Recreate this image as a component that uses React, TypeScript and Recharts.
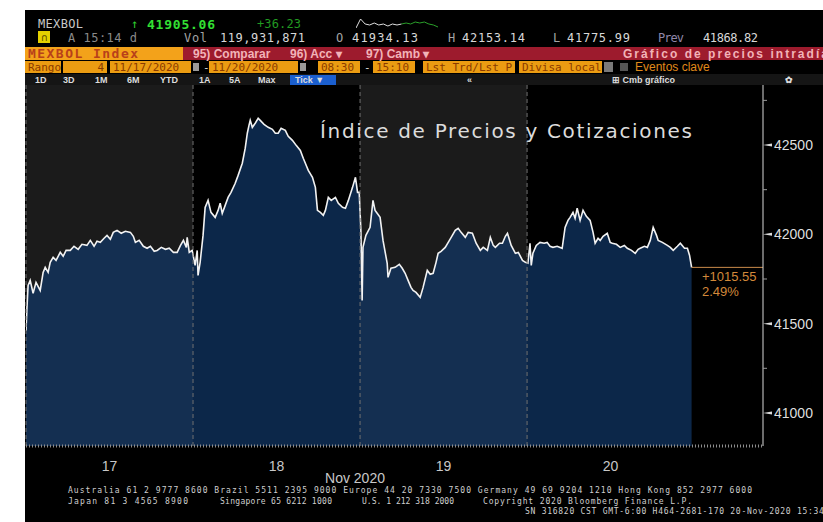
import React from "react";
import {
  Area,
  ComposedChart,
  Line,
  LineChart,
  ReferenceArea,
  ReferenceLine,
  XAxis,
  YAxis,
} from "recharts";

// minutes after 08:30 for each session, and the index level
const dayLabels = ["17", "18", "19", "20"];
const dayStarts = [0, 400, 800, 1200];
const X_MAX = 1765;

const d17Min = [0, 2, 5, 10, 17, 24, 34, 41, 46, 53, 58, 65, 72, 82, 89, 96, 106, 115, 125, 134, 146, 154, 163, 170, 178, 187, 194, 202, 209, 218, 228, 238, 250, 257, 262, 271, 281, 290, 298, 307, 314, 324, 334, 343, 353, 362, 370, 377, 384, 386, 391, 398];
const d17Val = [41460, 41574, 41714, 41742, 41670, 41731, 41686, 41787, 41815, 41787, 41843, 41871, 41854, 41899, 41877, 41910, 41910, 41933, 41916, 41944, 41938, 41966, 41933, 41961, 41955, 41978, 41994, 41972, 42011, 42022, 42006, 42017, 42011, 41989, 41955, 41966, 41933, 41922, 41933, 41905, 41910, 41927, 41916, 41922, 41899, 41899, 41938, 41966, 41927, 41983, 41899, 41910];

const d18Min = [5, 10, 12, 17, 24, 29, 36, 43, 53, 60, 65, 70, 77, 84, 91, 101, 108, 118, 125, 130, 134, 137, 142, 149, 156, 161, 170, 180, 190, 197, 204, 211, 221, 228, 238, 247, 257, 264, 269, 276, 286, 293, 298, 305, 312, 317, 324, 331, 341, 348, 358, 365, 372, 382, 389, 394, 398];
const d18Val = [41826, 41910, 41770, 41843, 41994, 42151, 42190, 42123, 42095, 42134, 42174, 42118, 42162, 42207, 42235, 42286, 42330, 42398, 42482, 42566, 42610, 42638, 42599, 42622, 42650, 42638, 42616, 42599, 42588, 42566, 42566, 42594, 42582, 42549, 42526, 42498, 42470, 42426, 42398, 42358, 42319, 42263, 42134, 42123, 42106, 42134, 42207, 42190, 42207, 42174, 42151, 42146, 42190, 42263, 42319, 42235, 42235];

const d19Min = [2, 5, 7, 14, 24, 31, 36, 41, 48, 55, 65, 67, 74, 84, 94, 101, 108, 115, 122, 127, 134, 144, 151, 161, 168, 175, 182, 187, 194, 204, 214, 221, 228, 235, 242, 252, 259, 269, 278, 288, 295, 305, 312, 319, 324, 334, 341, 348, 353, 362, 372, 379, 389, 396];
const d19Val = [42022, 41630, 41927, 41994, 42039, 42190, 42134, 42118, 42095, 41966, 41838, 41759, 41810, 41815, 41832, 41810, 41782, 41742, 41703, 41686, 41675, 41647, 41703, 41798, 41776, 41782, 41843, 41894, 41905, 41927, 41966, 41994, 42022, 42034, 42011, 41983, 42011, 42006, 41950, 41910, 41927, 41910, 41983, 41938, 41927, 41950, 41950, 41989, 42006, 41938, 41894, 41899, 41854, 41843];

const d20Min = [2, 7, 10, 14, 22, 31, 41, 48, 55, 62, 72, 84, 91, 98, 103, 110, 115, 120, 127, 134, 142, 151, 158, 163, 170, 175, 182, 192, 199, 204, 214, 223, 233, 240, 250, 259, 266, 271, 281, 288, 295, 302, 310, 314, 324, 336, 343, 350, 360, 367, 377, 384, 389, 394];
const d20Val = [41838, 41950, 41826, 41894, 41938, 41955, 41950, 41955, 41933, 41927, 41933, 41922, 42039, 42078, 42095, 42123, 42090, 42146, 42078, 42134, 42101, 42078, 42011, 41950, 41978, 41966, 41989, 42006, 41955, 41950, 41944, 41927, 41938, 41922, 41910, 41894, 41916, 41922, 41933, 41927, 41966, 42039, 41994, 41966, 41955, 41938, 41927, 41910, 41933, 41950, 41922, 41922, 41883, 41815];

const yTicks = [41000, 41250, 41500, 41750, 42000, 42250, 42500, 42750];
const yMajor = [41000, 41500, 42000, 42500];
const Y_DOMAIN = [40815, 42836];

const sparkWhite = [2, 11, 6, 5, 7, 5, 6, 4, 6, 5, 6, null, null, null, null, null, null, null, null];
const sparkGreen = [null, null, null, null, null, null, null, null, null, null, 6, 7, 6, 8, 7, 8, 6, 5, 3];

const days = [
  { start: dayStarts[0], t: d17Min, v: d17Val },
  { start: dayStarts[1], t: d18Min, v: d18Val },
  { start: dayStarts[2], t: d19Min, v: d19Val },
  { start: dayStarts[3], t: d20Min, v: d20Val },
];
const data = days.flatMap((d) => d.t.map((m, i) => ({ t: d.start + m, v: d.v[i] })));
const last = data[data.length - 1];
const sparkData = sparkWhite.map((w, i) => ({ i, w, g: sparkGreen[i] }));

const MONO = "DejaVu Sans Mono";
const SANS = "Liberation Sans";

function RightTick({ x, y, payload }: any) {
  const v = payload.value;
  if (!yMajor.includes(v)) {
    return <line x1={x} x2={x + 4} y1={y} y2={y} stroke="#9a9a9a" />;
  }
  return (
    <g>
      <polygon points={`${x},${y} ${x + 9},${y - 1.5} ${x + 9},${y + 1.5}`} fill="#dcdcdc" />
      <text x={x + 11} y={y + 5} fill="#dedede" fontSize={14} fontFamily={SANS}>
        {v}
      </text>
    </g>
  );
}

function DayTick({ x, y, payload }: any) {
  const idx = dayStarts.indexOf(payload.value - 200);
  return (
    <text x={x} y={y + 23} textAnchor="middle" fill="#c8c8c8" fontSize={14} fontFamily={SANS}>
      {dayLabels[idx]}
    </text>
  );
}

function ChangeLabel({ viewBox }: any) {
  const x0 = viewBox.x + viewBox.width - 61;
  const y0 = viewBox.y;
  return (
    <g fontFamily={SANS} fontSize={13} fill="#d3893a">
      <text x={x0} y={y0 + 14}>+1015.55</text>
      <text x={x0} y={y0 + 29}>2.49%</text>
    </g>
  );
}

function Header() {
  const box = (x: number, w: number, label: string, right = false) => (
    <g key={label + x}>
      <rect x={x} y={61} width={w} height={12} fill="#eb9c12" />
      <text
        x={right ? x + w - 3 : x + 3}
        y={71}
        textAnchor={right ? "end" : "start"}
        fontSize={11}
        fill="#8a3a00"
        fontFamily={MONO}
      >
        {label}
      </text>
    </g>
  );
  return (
    <svg width={823} height={522} style={{ position: "absolute", left: 0, top: 0, pointerEvents: "none" }}>
      <g fontFamily={MONO} fontSize={12}>
        <text x={38} y={28} fill="#c8c8c8" textLength={45}>MEXBOL</text>
        <text x={131} y={28} fill="#2fd02f">↑</text>
        <text x={147} y={29} fill="#33e033" fontWeight="bold" fontSize={13} textLength={68}>41905.06</text>
        <text x={257} y={28} fill="#229a22" textLength={44}>+36.23</text>

        <rect x={38} y={31} width={12} height={12} fill="#e3d000" />
        <text x={41} y={41} fill="#5a4a00" fontSize={10}>∩</text>
        <text x={68} y={42} fill="#8a8a8a" textLength={69}>A 15:14 d</text>
        <text x={184} y={42} fill="#a4a4a4" textLength={23}>Vol</text>
        <text x={220} y={42} fill="#d8d8d8" textLength={85}>119,931,871</text>
        <text x={336} y={42} fill="#a4a4a4">O</text>
        <text x={352} y={42} fill="#d8d8d8" textLength={66}>41934.13</text>
        <text x={448} y={42} fill="#a4a4a4">H</text>
        <text x={462} y={42} fill="#d8d8d8" textLength={63}>42153.14</text>
        <text x={553} y={42} fill="#a4a4a4">L</text>
        <text x={567} y={42} fill="#d8d8d8" textLength={63}>41775.99</text>
        <text x={658} y={42} fill="#8f86a8" textLength={26}>Prev</text>
        <text x={703} y={42} fill="#d8d8d8" textLength={55}>41868.82</text>
      </g>

      <rect x={25} y={47} width={158} height={13} fill="#f3a21a" />
      <text x={28} y={58} fontFamily={MONO} fontSize={13} fontWeight="bold" fill="#b8401a" textLength={110}>
        MEXBOL Index
      </text>
      <rect x={183} y={47} width={640} height={13} fill="#9d1b2d" />
      <g fontFamily={SANS} fontSize={12} fontWeight="bold" fill="#f2b3b8">
        <text x={193} y={58}>95) Comparar</text>
        <text x={290} y={58}>96) Acc ▾</text>
        <text x={366} y={58}>97) Camb ▾</text>
        <text x={623} y={58} textLength={205}>Gráfico de precios intradía</text>
      </g>

      <g>
        {box(25, 36, "Rango")}
        {box(63, 44, "4", true)}
        {box(110, 81, "11/17/2020")}
        <rect x={193} y={63} width={6} height={8} fill="#9a9a9a" />
        <text x={203} y={71} fontSize={11} fill="#ddd" fontFamily={MONO}>-</text>
        {box(209, 89, "11/20/2020")}
        <rect x={300} y={63} width={6} height={8} fill="#9a9a9a" />
        {box(318, 42, "08:30")}
        <text x={364} y={71} fontSize={11} fill="#ddd" fontFamily={MONO}>-</text>
        {box(373, 42, "15:10")}
        {box(423, 92, "Lst Trd/Lst P")}
        {box(519, 83, "Divisa local")}
        <rect x={604} y={62} width={9} height={10} fill="#7a7a7a" />
        <rect x={620} y={63} width={8} height={8} fill="#555" />
        <text x={635} y={71} fontSize={12} fill="#e08a1a" fontFamily={SANS}>Eventos clave</text>
      </g>

      <rect x={25} y={74} width={798} height={11} fill="#151515" />
      <g fontFamily={SANS} fontSize={9} fontWeight="bold" fill="#dcdcdc">
        <text x={35} y={83}>1D</text>
        <text x={63} y={83}>3D</text>
        <text x={95} y={83}>1M</text>
        <text x={127} y={83}>6M</text>
        <text x={160} y={83}>YTD</text>
        <text x={199} y={83}>1A</text>
        <text x={229} y={83}>5A</text>
        <text x={258} y={83}>Max</text>
        <rect x={290} y={75} width={46} height={10} fill="#1b5fcf" />
        <text x={295} y={83}>Tick ▼</text>
        <text x={467} y={83}>«</text>
        <text x={612} y={83}>⊞ Cmb gráfico</text>
        <text x={785} y={83}>✿</text>
      </g>

      <text x={320} y={138} fontFamily="DejaVu Sans" fontSize={20} fill="#dcdcdc" textLength={372}>
        Índice de Precios y Cotizaciones
      </text>

      <text x={355} y={483} textAnchor="middle" fontFamily={SANS} fontSize={14} fill="#c8c8c8">
        Nov 2020
      </text>
      <g fontFamily={MONO} fontSize={8} fill="#cfcfcf">
        <text x={68} y={493} textLength={684}>
          Australia 61 2 9777 8600 Brazil 5511 2395 9000 Europe 44 20 7330 7500 Germany 49 69 9204 1210 Hong Kong 852 2977 6000
        </text>
        <text x={68} y={504} textLength={120}>Japan 81 3 4565 8900</text>
        <text x={220} y={504} textLength={112}>Singapore 65 6212 1000</text>
        <text x={362} y={504} textLength={92}>U.S. 1 212 318 2000</text>
        <text x={483} y={504} textLength={209}>Copyright 2020 Bloomberg Finance L.P.</text>
        <text x={525} y={514} textLength={310}>SN 316820 CST  GMT-6:00 H464-2681-170 20-Nov-2020 15:34:0</text>
      </g>
    </svg>
  );
}

export default function App() {
  return (
    <div style={{ position: "absolute", left: 0, top: 0, width: 823, height: 522, background: "#fff", overflow: "hidden" }}>
      <div style={{ position: "absolute", left: 25, top: 10, width: 798, height: 512, background: "#000" }} />
      <div style={{ position: "absolute", left: 0, top: 0 }}>
        <ComposedChart width={823} height={522} data={data} margin={{ top: 85, right: 0, bottom: 0, left: 26 }}>
          <ReferenceArea x1={dayStarts[0]} x2={dayStarts[1]} fill="#1b1b1b" fillOpacity={1} />
          <ReferenceArea x1={dayStarts[2]} x2={dayStarts[3]} fill="#1b1b1b" fillOpacity={1} />
          <XAxis
            dataKey="t"
            type="number"
            domain={[0, X_MAX]}
            ticks={dayStarts.map((s) => s + 200)}
            tick={<DayTick />}
            tickLine={false}
            tickSize={0}
            height={76}
            allowDataOverflow
            axisLine={{ stroke: "#8c8c8c", strokeWidth: 3, strokeDasharray: "1 2" }}
          />
          <YAxis
            orientation="right"
            type="number"
            domain={Y_DOMAIN}
            ticks={yTicks}
            tick={<RightTick />}
            tickLine={false}
            tickSize={0}
            tickMargin={0}
            width={60}
            allowDataOverflow
            axisLine={{ stroke: "#d8d8d8" }}
          />
          <Area
            dataKey="v"
            type="linear"
            stroke="#f2f2f2"
            strokeWidth={1.6}
            fill="#123a6b"
            fillOpacity={0.68}
            isAnimationActive={false}
            dot={false}
            activeDot={false}
          />
          {dayStarts.map((s) => (
            <ReferenceLine key={s} x={s} stroke="#707070" strokeDasharray="4 3" />
          ))}
          <ReferenceLine
            segment={[
              { x: last.t, y: last.v },
              { x: X_MAX, y: last.v },
            ]}
            stroke="#c98a4a"
            label={<ChangeLabel />}
          />
        </ComposedChart>
      </div>
      <div style={{ position: "absolute", left: 356, top: 17 }}>
        <LineChart width={82} height={14} data={sparkData} margin={{ top: 1, right: 0, bottom: 1, left: 0 }}>
          <XAxis dataKey="i" hide />
          <YAxis hide domain={[0, 12]} />
          <Line dataKey="w" stroke="#e0e0e0" dot={false} strokeWidth={1} isAnimationActive={false} />
          <Line dataKey="g" stroke="#2aa02a" dot={false} strokeWidth={1} isAnimationActive={false} />
        </LineChart>
      </div>
      <Header />
    </div>
  );
}
